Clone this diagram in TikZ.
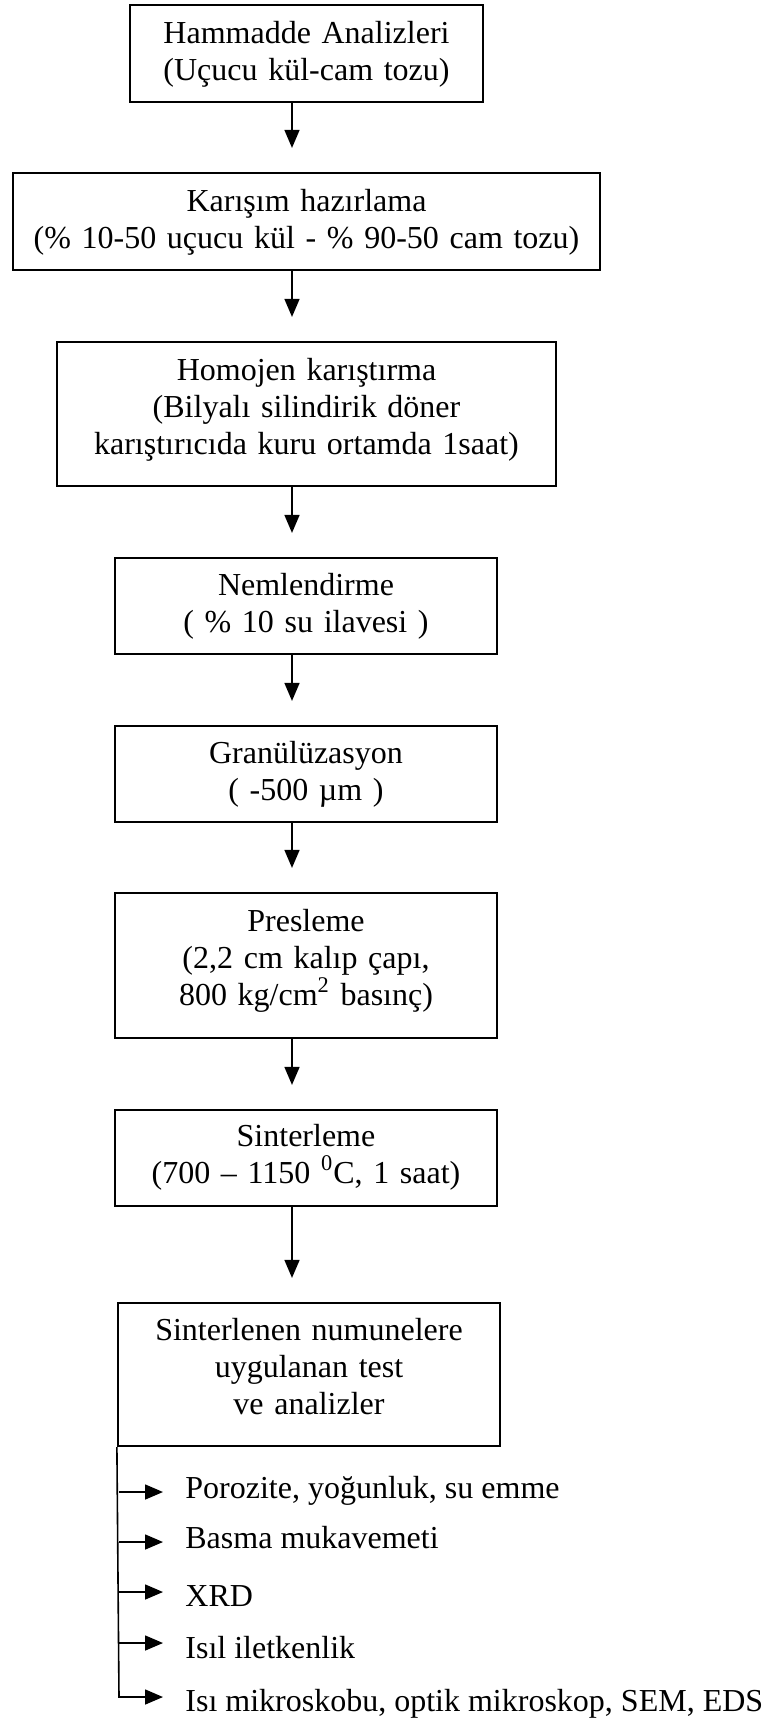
\documentclass[tikz,border=0pt]{standalone}
\usepackage{fontspec}
\setmainfont{Liberation Serif}
\usetikzlibrary{arrows.meta}
\begin{document}
\begin{tikzpicture}[x=0.5pt,y=-0.5pt,
  box/.style={draw, line width=1.1pt, inner sep=0pt},
  txt/.style={inner sep=0pt, align=center, anchor=base, font=\fontsize{16}{18.3}\selectfont},
  arr/.style={line width=0.8pt, -{Triangle[length=9pt,width=7.5pt]}},
  flow/.style={arr, shorten >=12pt},
  item/.style={inner sep=0pt, anchor=base west, font=\fontsize{16}{18.3}\selectfont}]
\useasboundingbox (0,0) rectangle (766,1729);
\coordinate (ax) at (292,0);
% boxes
\node[box, minimum width=176.5pt, minimum height=48.5pt] (b1) at (306.5,53.5) {};
\node[box, minimum width=293.5pt, minimum height=48.5pt] (b2) at (306.5,221.5) {};
\node[box, minimum width=249.5pt, minimum height=72pt] (b3) at (306.5,414) {};
\node[box, minimum width=191pt, minimum height=48pt] (b4) at (306,606) {};
\node[box, minimum width=191pt, minimum height=48pt] (b5) at (306,774) {};
\node[box, minimum width=191pt, minimum height=72.5pt] (b6) at (306,965.5) {};
\node[box, minimum width=191pt, minimum height=48pt] (b7) at (306,1158) {};
\node[box, minimum width=191pt, minimum height=71.5pt] (b8) at (309,1374.5) {};
% texts
\node[txt, text width=176.5pt] (t1) at ([yshift=-20pt]b1.north) {Hammadde Analizleri\\(Uçucu kül-cam tozu)};
\node[txt, text width=293.5pt] (t2) at ([yshift=-20pt]b2.north) {Karışım hazırlama\\(\% 10-50 uçucu kül - \% 90-50 cam tozu)};
\node[txt, text width=249.5pt] (t3) at ([yshift=-20pt]b3.north) {Homojen karıştırma\\(Bilyalı silindirik döner\\karıştırıcıda kuru ortamda 1saat)};
\node[txt, text width=191pt] (t4) at ([yshift=-19.5pt]b4.north) {Nemlendirme\\( \% 10 su ilavesi )};
\node[txt, text width=191pt] (t5) at ([yshift=-19.5pt]b5.north) {Granülüzasyon\\( -500 µm )};
\node[txt, text width=191pt] (t6) at ([yshift=-20pt]b6.north) {Presleme\\(2,2 cm kalıp çapı,\\800 kg/cm\textsuperscript{2} basınç)};
\node[txt, text width=191pt] (t7) at ([yshift=-19pt]b7.north) {Sinterleme\\(700 – 1150 \textsuperscript{0}C, 1 saat)};
\node[txt, text width=191pt] (t8) at ([yshift=-19.5pt]b8.north) {Sinterlenen numunelere\\uygulanan test\\ve analizler};
% flow arrows
\draw[flow] (b1.south -| ax) -- (b2.north -| ax);
\draw[flow] (b2.south -| ax) -- (b3.north -| ax);
\draw[flow] (b3.south -| ax) -- (b4.north -| ax);
\draw[flow] (b4.south -| ax) -- (b5.north -| ax);
\draw[flow] (b5.south -| ax) -- (b6.north -| ax);
\draw[flow] (b6.south -| ax) -- (b7.north -| ax);
\draw[flow] (b7.south -| ax) -- (b8.north -| ax);
% list items
\node[item] (l1) at (185,1498) {Porozite, yoğunluk, su emme};
\node[item] (l2) at (185,1548) {Basma mukavemeti};
\node[item] (l3) at (185,1606) {XRD};
\node[item] (l4) at (185,1658) {Isıl iletkenlik};
\node[item] (l5) at (185,1711) {Isı mikroskobu, optik mikroskop, SEM, EDS};
\coordinate (k1) at (119,1492);
\coordinate (k2) at (119,1542);
\coordinate (k3) at (119,1592);
\coordinate (k4) at (119,1643);
\coordinate (k5) at (119,1697);
\draw[arr, shorten >=11pt] (b8.south west) -- (k5) -- (k5 -| l5.west);
\draw[arr, shorten >=11pt] (k1) -- (k1 -| l1.west);
\draw[arr, shorten >=11pt] (k2) -- (k2 -| l2.west);
\draw[arr, shorten >=11pt] (k3) -- (k3 -| l3.west);
\draw[arr, shorten >=11pt] (k4) -- (k4 -| l4.west);
\end{tikzpicture}
\end{document}
